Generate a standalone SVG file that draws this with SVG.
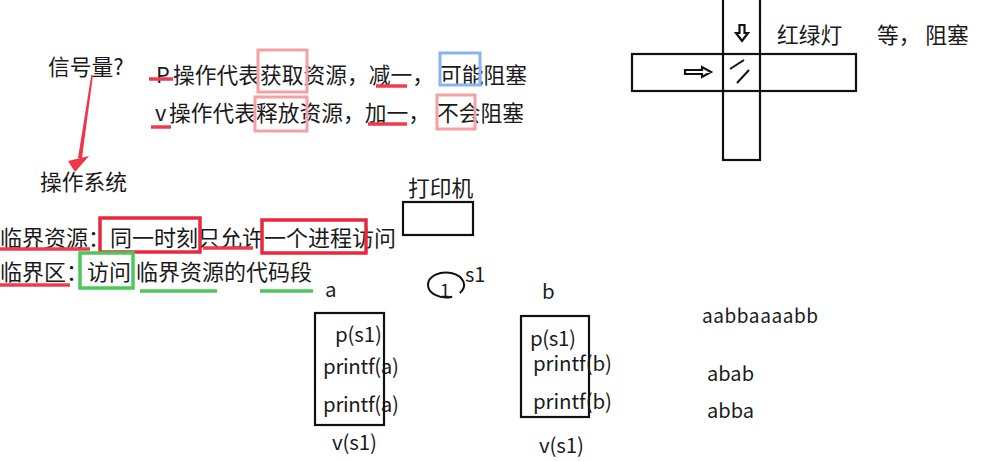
<svg xmlns="http://www.w3.org/2000/svg" width="1004" height="462" viewBox="0 0 1004 462">
<style>
text{font-family:"Noto Sans CJK SC","Noto Sans",sans-serif;fill:#1a1a1a}
.t{font-size:21.75px}
.t2{font-size:22px}
.l{font-size:20.5px}
.bk{fill:none;stroke:#111;stroke-width:2.2}
.pink{fill:none;stroke:#f3a0a6;stroke-width:3}
.red{fill:none;stroke:#e8283c;stroke-width:3.5}
.grn{fill:none;stroke:#4cc85a;stroke-width:3.5}
.blu{fill:none;stroke:#8ab4f0;stroke-width:3}
.ur{stroke:#ee3b50;stroke-width:3.5;stroke-linecap:butt}
.ug{stroke:#4cc85a;stroke-width:3.5}
</style>
<rect width="1004" height="462" fill="#fff"/>

<g id="semaphore">
<text class="t" x="48" y="75">信号量?</text>
</g>

<g id="p-op">
<text class="t" y="83"><tspan x="156">P</tspan><tspan x="173">操作代表获取资源，减一，</tspan><tspan x="440">可能阻塞</tspan></text>
<rect class="pink" x="258" y="50" width="49" height="42"/>
<rect class="blu" x="440" y="53" width="40" height="32"/>
<line class="ur" x1="149" y1="79" x2="173" y2="79"/>
<line class="ur" x1="376" y1="86" x2="407" y2="86"/>
</g>

<g id="v-op">
<text class="t" y="121"><tspan x="155">v</tspan><tspan x="169">操作代表释放资源，加一，</tspan><tspan x="437">不会阻塞</tspan></text>
<rect class="pink" x="255" y="97" width="52" height="34"/>
<rect class="pink" x="437" y="95" width="38" height="34"/>
<line class="ur" x1="151" y1="127" x2="171" y2="127"/>
<line class="ur" x1="368" y1="124" x2="407" y2="124"/>
</g>

<g id="os">
<text class="t" x="40" y="190">操作系统</text>
</g>

<g id="critical-resource">
<text class="t2" y="246"><tspan x="0">临界资源：</tspan><tspan x="110">同一时刻只允许一个进程访问</tspan></text>
<rect class="red" x="100" y="218" width="100" height="34"/>
<rect class="red" x="262" y="220" width="104" height="33"/>
<line class="ur" x1="0" y1="249" x2="90" y2="249"/>
<line class="ur" x1="203" y1="248" x2="253" y2="248"/>
</g>

<g id="critical-section">
<text class="t2" y="280"><tspan x="0">临界区：</tspan><tspan x="87">访问</tspan><tspan x="136">临界资源的代码段</tspan></text>
<rect class="grn" x="80" y="253" width="53" height="35"/>
<line class="ur" x1="0" y1="285" x2="70" y2="285"/>
<line class="ug" x1="140" y1="291" x2="217" y2="291"/>
<line class="ug" x1="260" y1="291" x2="313" y2="291"/>
</g>

<g id="printer">
<text class="t" x="408" y="196">打印机</text>
<rect class="bk" x="403" y="202" width="70" height="33"/>
</g>

<g id="crossroad">
<rect class="bk" x="723" y="-4" width="37" height="164"/>
<rect class="bk" x="632" y="54" width="224" height="37"/>
<path class="bk" stroke-width="2" d="M739.5,25 H744.5 V33 H748 L742,41 L736,33 H739.5 Z"/>
<path class="bk" stroke-width="2" d="M685,70 H702 V67 L711,72 L702,77 V74 H685 Z"/>
<line x1="744" y1="60" x2="730" y2="69" stroke="#111" stroke-width="2"/>
<line x1="749" y1="70" x2="737" y2="83" stroke="#111" stroke-width="2"/>
<text class="t" x="777" y="43">红绿灯</text>
<text class="t" x="877" y="43">等，  阻塞</text>
</g>

<g id="sem-s1">
<path fill="none" stroke="#111" stroke-width="2" d="M452.2,296.7 A18,12.5 0 1 1 459.8,293"/>
<text x="440" y="297" font-size="18">1</text>
<text x="465" y="282" font-size="20">s1</text>
</g>

<g id="proc-a">
<text class="l" x="325" y="297">a</text>
<rect class="bk" x="315" y="313" width="69" height="112"/>
<text class="l" x="335" y="342" textLength="47" lengthAdjust="spacing">p(s1)</text>
<text class="l" x="323" y="374" textLength="76" lengthAdjust="spacing">printf(a)</text>
<text class="l" x="323" y="412" textLength="76" lengthAdjust="spacing">printf(a)</text>
<text class="l" x="332" y="450" textLength="45" lengthAdjust="spacing">v(s1)</text>
</g>

<g id="proc-b">
<text class="l" x="542" y="299">b</text>
<rect class="bk" x="521" y="316" width="68" height="101"/>
<text class="l" x="530" y="346" font-size="20" textLength="46" lengthAdjust="spacing">p(s1)</text>
<text class="l" x="533" y="371" textLength="79" lengthAdjust="spacing">printf(b)</text>
<text class="l" x="533" y="409" textLength="79" lengthAdjust="spacing">printf(b)</text>
<text class="l" x="539" y="453" textLength="45" lengthAdjust="spacing">v(s1)</text>
</g>

<g id="outputs">
<text x="702" y="323" font-size="19" textLength="116" lengthAdjust="spacing">aabbaaaabb</text>
<text x="707" y="381" font-size="20" textLength="47" lengthAdjust="spacing">abab</text>
<text x="707" y="418" font-size="20" textLength="47" lengthAdjust="spacing">abba</text>
</g>

<g id="connectors">
<polygon fill="#ef3548" points="91.3,75 93,75 82,158 78,158"/>
<polygon fill="#ef3548" points="68,161 89,156 75,172"/>
</g>
</svg>
